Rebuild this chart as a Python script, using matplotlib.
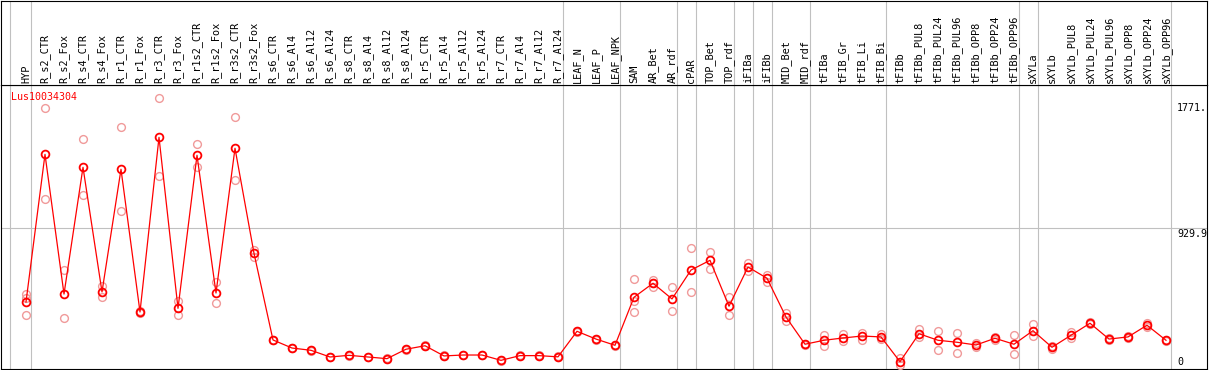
import matplotlib
matplotlib.use("Agg")
import matplotlib.pyplot as plt

# ---------------- data ----------------
gene_id = "Lus10034304"

categories = [
    "HYP", "R_s2_CTR", "R_s2_Fox", "R_s4_CTR", "R_s4_Fox", "R_r1_CTR", "R_r1_Fox",
    "R_r3_CTR", "R_r3_Fox", "R_r1s2_CTR", "R_r1s2_Fox", "R_r3s2_CTR", "R_r3s2_Fox",
    "R_s6_CTR", "R_s6_Al4", "R_s6_Al12", "R_s6_Al24",
    "R_s8_CTR", "R_s8_Al4", "R_s8_Al12", "R_s8_Al24",
    "R_r5_CTR", "R_r5_Al4", "R_r5_Al12", "R_r5_Al24",
    "R_r7_CTR", "R_r7_Al4", "R_r7_Al12", "R_r7_Al24",
    "LEAF_N", "LEAF_P", "LEAF_NPK", "SAM", "AR_Bet", "AR_rdf", "cPAR",
    "TOP_Bet", "TOP_rdf", "iFIBa", "iFIBb", "MID_Bet", "MID_rdf",
    "tFIBa", "tFIB_Gr", "tFIB_Li", "tFIB_Bi", "tFIBb",
    "tFIBb_PUL8", "tFIBb_PUL24", "tFIBb_PUL96", "tFIBb_OPP8", "tFIBb_OPP24", "tFIBb_OPP96",
    "sXYLa", "sXYLb",
    "sXYLb_PUL8", "sXYLb_PUL24", "sXYLb_PUL96", "sXYLb_OPP8", "sXYLb_OPP24", "sXYLb_OPP96",
]

means = [
    441, 1412, 493, 1327, 507, 1314, 375, 1524, 399, 1406, 500, 1452, 761,
    191, 138, 123, 79,
    90, 79, 68, 130,
    153, 86, 92, 92,
    57, 88, 88, 80,
    248, 197, 156, 472, 564, 461, 651,
    715, 413, 671, 597, 342, 163,
    189, 204, 217, 211, 48,
    232, 189, 176, 158, 202, 163,
    252, 143,
    222, 301, 197, 211, 288, 189,
]

replicates = [
    (491, 465, 353), (1715, 1116), (651, 334), (1511, 1143), (546, 472), (1590, 1038), (380, 368),
    (1781, 1268), (447, 353), (1480, 1327), (574, 432), (1656, 1243), (783, 739),
    (194, 188), (141, 135), (126, 120), (82, 76),
    (93, 87), (82, 76), (71, 65), (133, 127),
    (156, 150), (89, 83), (95, 89), (95, 89),
    (60, 54), (91, 85), (91, 85), (83, 77),
    (251, 245), (200, 194), (159, 153), (590, 447, 375), (586, 564, 538), (541, 380), (794, 505),
    (768, 660), (472, 353), (695, 647), (620, 572), (370, 314), (167, 158),
    (224, 151), (228, 182), (235, 191), (228, 195), (70, 26),
    (263, 213), (250, 123), (235, 107), (173, 147), (213, 191), (226, 97),
    (296, 217), (151, 134),
    (243, 204), (306, 296), (201, 193), (215, 206), (305, 274), (193, 185),
]

# group separators (positions between/after categories)
separators = [-0.84, 0.24, 28.24, 31.24, 34.24, 35.24, 37.24, 38.24, 39.24,
              41.24, 45.24, 52.24, 53.24, 60.24]

ref_values = [1771, 929.9, 0]
ref_labels = ["1771.", "929.9", "0"]
grid_value = 929.9

# ---------------- layout ----------------
W, H = 1209, 370
fig = plt.figure(figsize=(W / 100, H / 100), dpi=100)
fig.patch.set_facecolor("white")


def fx(px):
    return px / W


def fy(py):
    return 1 - py / H


left_px, right_px = 1, 1207
top_px, head_px, bottom_px = 0.5, 85, 369
step_px, first_px = 19.0, 26.0
px_per_unit = 0.152

ax = fig.add_axes([fx(left_px), fy(bottom_px), fx(right_px) - fx(left_px), fy(head_px) - fy(bottom_px)])
hax = fig.add_axes([fx(left_px), fy(head_px), fx(right_px) - fx(left_px), fy(top_px) - fy(head_px)])

xlim = ((left_px - first_px) / step_px, (right_px - first_px) / step_px)
for a in (ax, hax):
    a.set_xlim(*xlim)
    a.set_xticks([])
    a.set_yticks([])
    a.set_facecolor("white")
    for s in a.spines.values():
        s.set_color("black")
        s.set_linewidth(0.8)
ax.set_ylim(0, (bottom_px - head_px) / px_per_unit)
hax.set_ylim(0, 1)

mono = "DejaVu Sans Mono"

# separators
for sx in separators:
    ax.axvline(sx, color="#c0c0c0", lw=0.8, zorder=1)
    hax.axvline(sx, color="#c0c0c0", lw=0.8, zorder=1)
ax.axhline(grid_value, color="#c0c0c0", lw=0.8, zorder=1)

# header labels
for i, lab in enumerate(categories):
    hax.text(i, 0.025, lab, rotation=90, ha="center", va="bottom",
             fontsize=7.4, family=mono, color="black")

# replicates
xs = list(range(len(categories)))
for i, reps in enumerate(replicates):
    ax.plot([i] * len(reps), reps, ls="none", marker="o", ms=5.6, mfc="none",
            mec="#f09a9a", mew=1.0, zorder=3, clip_on=False)

# mean line
ax.plot(xs, means, color="red", lw=0.9, marker="o", ms=5.6, mfc="none",
        mec="red", mew=1.3, zorder=4, clip_on=False)

# gene id
ax.text(0.008, 0.975, gene_id, transform=ax.transAxes, ha="left", va="top",
        color="red", fontsize=7.2, family=mono)

# reference value labels
offsets = [-3, -1, 2]
vas = ["top", "top", "bottom"]
for v, lab, off, va in zip(ref_values, ref_labels, offsets, vas):
    ax.annotate(lab, xy=(1, v), xycoords=("axes fraction", "data"),
                xytext=(-30, off), textcoords="offset pixels",
                ha="left", va=va, fontsize=7.2, family=mono, color="black",
                annotation_clip=False)

fig.savefig("out.png", dpi=100)
